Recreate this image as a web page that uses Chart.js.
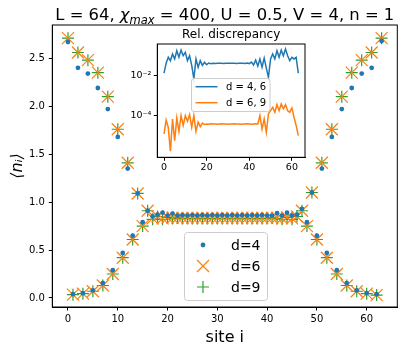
<!DOCTYPE html>
<html>
<head>
<meta charset="utf-8">
<script src="https://cdn.jsdelivr.net/npm/chart.js@4"></script>
<style>
  html, body { margin: 0; padding: 0; background: #fff; }
  #wrap { position: relative; width: 407px; height: 353px; }
  #main { position: absolute; left: 0; top: 0; width: 407px; height: 353px; }
  #inset { position: absolute; left: 110px; top: 20px; width: 200px; height: 160px; }
</style>
</head>
<body>
<div id="wrap">
  <canvas id="main" width="407" height="353"></canvas>
  <canvas id="inset" width="200" height="160"></canvas>
</div>
<script>
const sites = [0, 1, 2, 3, 4, 5, 6, 7, 8, 9, 10, 11, 12, 13, 14, 15, 16, 17, 18, 19, 20, 21, 22, 23,
  24, 25, 26, 27, 28, 29, 30, 31, 32, 33, 34, 35, 36, 37, 38, 39, 40, 41, 42, 43, 44, 45, 46, 47,
  48, 49, 50, 51, 52, 53, 54, 55, 56, 57, 58, 59, 60, 61, 62, 63];

// <n_i> for bond dimension d = 4, 6, 9
const dens4 = [2.67, 0.04, 2.40, 0.05, 2.34, 0.08, 2.19, 0.155, 1.97, 0.29, 1.68, 0.47, 1.35, 0.65, 1.09, 0.79,
  0.91, 0.85, 0.87, 0.89, 0.86, 0.88, 0.86, 0.865, 0.86, 0.865, 0.86, 0.865, 0.86, 0.865, 0.86, 0.865,
  0.86, 0.865, 0.86, 0.865, 0.86, 0.865, 0.86, 0.865, 0.86, 0.86, 0.885, 0.86, 0.89, 0.86, 0.87, 0.93,
  0.79, 1.10, 0.65, 1.35, 0.47, 1.68, 0.29, 1.97, 0.155, 2.19, 0.08, 2.34, 0.05, 2.40, 0.04, 2.68];
const dens6 = [2.71, 0.035, 2.56, 0.045, 2.48, 0.07, 2.35, 0.13, 2.10, 0.25, 1.76, 0.42, 1.41, 0.61, 1.09, 0.75,
  0.91, 0.83, 0.85, 0.83, 0.84, 0.835, 0.835, 0.835, 0.835, 0.835, 0.835, 0.835, 0.835, 0.835, 0.835, 0.835,
  0.835, 0.835, 0.835, 0.835, 0.835, 0.835, 0.835, 0.835, 0.835, 0.835, 0.835, 0.83, 0.84, 0.83, 0.85, 0.91,
  0.75, 1.10, 0.61, 1.41, 0.42, 1.76, 0.25, 2.10, 0.13, 2.35, 0.07, 2.48, 0.045, 2.56, 0.03, 2.71];
const dens9 = [2.71, 0.035, 2.56, 0.045, 2.48, 0.07, 2.35, 0.13, 2.10, 0.25, 1.76, 0.42, 1.41, 0.61, 1.09, 0.75,
  0.91, 0.82, 0.85, 0.82, 0.84, 0.83, 0.835, 0.83, 0.83, 0.83, 0.83, 0.83, 0.83, 0.83, 0.83, 0.83,
  0.83, 0.83, 0.83, 0.83, 0.83, 0.83, 0.83, 0.83, 0.83, 0.835, 0.83, 0.82, 0.84, 0.82, 0.85, 0.91,
  0.75, 1.10, 0.61, 1.41, 0.42, 1.76, 0.25, 2.10, 0.13, 2.35, 0.07, 2.48, 0.045, 2.56, 0.03, 2.71];

// relative discrepancy (inset)
const disc46 = [1.38e-2, 4.4e-2, 8.7e-2, 5.9e-2, 1.29e-1, 7.2e-2, 1.86e-1, 8.7e-2, 2.0e-1, 1.05e-1, 1.55e-1, 5.9e-2,
  1.05e-1, 3.4e-2, 7.1e-3, 7.2e-2, 2.75e-2, 5.9e-2, 3.4e-2, 4.9e-2, 3.7e-2, 4.5e-2, 4.1e-2, 4.4e-2,
  4.3e-2, 4.4e-2, 4.35e-2, 4.4e-2, 4.3e-2, 4.4e-2, 4.35e-2, 4.4e-2, 4.35e-2, 4.4e-2, 4.3e-2, 4.4e-2,
  4.35e-2, 4.4e-2, 4.3e-2, 4.45e-2, 4.2e-2, 5.0e-2, 3.55e-2, 6.3e-2, 3.16e-2, 7.1e-2, 2.8e-2, 7.9e-2,
  2.5e-2, 8.5e-3, 7.2e-2, 1.29e-1, 7.2e-2, 1.86e-1, 8.7e-2, 2.0e-1, 1.05e-1, 2.3e-1, 1.05e-1, 5.9e-2,
  8.7e-2, 7.2e-2, 8.7e-2, 1.38e-2];
const disc69 = [1.2e-5, 6.0e-5, 2.5e-5, 1.6e-6, 6.8e-5, 5.5e-6, 7.6e-5, 1.6e-5, 1.0e-4, 3.2e-5, 1.0e-4, 5.2e-5,
  1.12e-4, 2.6e-5, 1.0e-4, 1.6e-5, 4.7e-5, 2.8e-5, 4.2e-5, 3.55e-5, 3.8e-5, 3.7e-5, 3.9e-5, 3.8e-5,
  3.8e-5, 3.7e-5, 3.8e-5, 3.9e-5, 3.8e-5, 3.8e-5, 3.7e-5, 3.8e-5, 3.8e-5, 3.9e-5, 3.8e-5, 3.8e-5,
  3.7e-5, 3.8e-5, 3.8e-5, 3.9e-5, 3.8e-5, 3.7e-5, 3.8e-5, 3.9e-5, 3.7e-5, 1.0e-4, 2.1e-5, 6.8e-5,
  1.45e-5, 1.23e-4, 1.78e-4, 2.6e-4, 1.48e-4, 3.6e-4, 1.78e-4, 3.9e-4, 2.2e-4, 3.6e-4, 1.78e-4, 1.48e-4,
  2.45e-4, 8.3e-5, 3.2e-5, 9.8e-6];

const densLabels = ["d=4", "d=6", "d=9"];
const discLabels = ["d = 4, 6", "d = 6, 9"];
const xTicks = [0, 10, 20, 30, 40, 50, 60];
const yTicks = [0, 0.5, 1.0, 1.5, 2.0, 2.5];
const insetXTicks = [0, 20, 40, 60];
const insetYTicks = [1e-4, 1e-2];
const insetYTickLabels = ["10⁻⁴", "10⁻²"];

const BLUE = "#1f77b4", ORANGE = "#ff7f0e", GREEN = "#2ca02c";
const FONT = "'DejaVu Sans', sans-serif";
Chart.defaults.font.family = FONT;
Chart.defaults.color = "#000";
Chart.defaults.animation = false;

function pts(arr) { return arr.map((v, i) => ({x: sites[i], y: v})); }

function drawMarker(ctx, style, x, y, r, color) {
  ctx.save();
  ctx.strokeStyle = color; ctx.fillStyle = color; ctx.lineWidth = 1.2;
  ctx.beginPath();
  if (style === "circle") { ctx.arc(x, y, r, 0, Math.PI * 2); ctx.fill(); }
  else if (style === "crossRot") {
    const a = r * Math.SQRT1_2;
    ctx.moveTo(x - a, y - a); ctx.lineTo(x + a, y + a);
    ctx.moveTo(x - a, y + a); ctx.lineTo(x + a, y - a); ctx.stroke();
  } else {
    ctx.moveTo(x - r, y); ctx.lineTo(x + r, y);
    ctx.moveTo(x, y - r); ctx.lineTo(x, y + r); ctx.stroke();
  }
  ctx.restore();
}

function roundBox(ctx, x, y, w, h, r) {
  ctx.beginPath();
  ctx.moveTo(x + r, y); ctx.lineTo(x + w - r, y); ctx.quadraticCurveTo(x + w, y, x + w, y + r);
  ctx.lineTo(x + w, y + h - r); ctx.quadraticCurveTo(x + w, y + h, x + w - r, y + h);
  ctx.lineTo(x + r, y + h); ctx.quadraticCurveTo(x, y + h, x, y + h - r);
  ctx.lineTo(x, y + r); ctx.quadraticCurveTo(x, y, x + r, y); ctx.closePath();
}

// frame, title and legend of the main plot
const mainDeco = {
  id: "mainDeco",
  afterDraw(chart) {
    const {ctx, chartArea: a} = chart;
    ctx.save();
    ctx.strokeStyle = "#000"; ctx.lineWidth = 1;
    ctx.strokeRect(a.left, a.top, a.right - a.left, a.bottom - a.top);

    // title with subscript
    const parts = [
      {t: "L = 64, ", f: "16.4px " + FONT, dy: 0},
      {t: "χ", f: "italic 16.4px " + FONT, dy: 0},
      {t: "max", f: "italic 11.5px " + FONT, dy: 4},
      {t: " = 400, U = 0.5, V = 4, n = 1", f: "16.4px " + FONT, dy: 0}
    ];
    let w = 0;
    parts.forEach(p => { ctx.font = p.f; p.w = ctx.measureText(p.t).width; w += p.w; });
    let x = (a.left + a.right) / 2 - w / 2;
    ctx.fillStyle = "#000"; ctx.textBaseline = "alphabetic";
    parts.forEach(p => { ctx.font = p.f; ctx.fillText(p.t, x, 20 + p.dy); x += p.w; });

    // legend
    ctx.globalAlpha = 0.8; ctx.fillStyle = "#fff";
    roundBox(ctx, 184.5, 232.5, 83, 68, 3); ctx.fill();
    ctx.globalAlpha = 1; ctx.strokeStyle = "#ccc"; ctx.stroke();
    chart.data.datasets.forEach((ds, i) => {
      const yy = 245 + i * 21;
      drawMarker(ctx, ds.pointStyle, 203, yy, ds.pointRadius, ds.borderColor);
      ctx.fillStyle = "#000"; ctx.font = "14px " + FONT; ctx.textBaseline = "middle";
      ctx.fillText(ds.label, 231, yy + 1);
    });
    ctx.restore();
  }
};

new Chart(document.getElementById("main"), {
  type: "scatter",
  data: {
    datasets: [
      {label: densLabels[0], data: pts(dens4), pointStyle: "circle", pointRadius: 2.4, borderColor: BLUE, backgroundColor: BLUE, borderWidth: 0},
      {label: densLabels[1], data: pts(dens6), pointStyle: "crossRot", pointRadius: 8.5, borderColor: ORANGE, backgroundColor: ORANGE, borderWidth: 1.2},
      {label: densLabels[2], data: pts(dens9), pointStyle: "cross", pointRadius: 6, borderColor: GREEN, backgroundColor: GREEN, borderWidth: 1.2}
    ]
  },
  options: {
    responsive: false,
    layout: {padding: {left: 0, top: 25, right: 8, bottom: 0}},
    plugins: {legend: {display: false}, tooltip: {enabled: false}},
    scales: {
      x: {
        type: "linear", min: -3.15, max: 66.15,
        afterBuildTicks: s => { s.ticks = xTicks.map(v => ({value: v})); },
        afterFit: s => { s.height = 46; },
        ticks: {font: {size: 10}, color: "#000", padding: 3, maxRotation: 0, autoSkip: false},
        grid: {drawOnChartArea: false, drawTicks: true, tickLength: 3.5, color: "#000"},
        border: {display: true, color: "#000"},
        title: {display: true, text: "site i", font: {size: 16}, color: "#000", padding: {top: 0, bottom: 6}}
      },
      y: {
        type: "linear", min: -0.094, max: 2.847,
        afterBuildTicks: s => { s.ticks = yTicks.map(v => ({value: v})); },
        afterFit: s => { s.width = 52.3; },
        ticks: {font: {size: 10}, color: "#000", padding: 4, callback: v => v.toFixed(1)},
        grid: {drawOnChartArea: false, drawTicks: true, tickLength: 3.5, color: "#000"},
        border: {display: true, color: "#000"},
        title: {display: true, text: "⟨nᵢ⟩", font: {size: 16, style: "italic"}, color: "#000", padding: {top: 8, bottom: 0}}
      }
    }
  },
  plugins: [mainDeco]
});

// inset: white background, frame, title, legend
const insetDeco = {
  id: "insetDeco",
  beforeDraw(chart) {
    const {ctx, chartArea: a} = chart;
    ctx.save(); ctx.fillStyle = "#fff";
    ctx.fillRect(a.left, a.top, a.right - a.left, a.bottom - a.top);
    ctx.restore();
  },
  afterDraw(chart) {
    const {ctx, chartArea: a} = chart;
    ctx.save();
    ctx.strokeStyle = "#000"; ctx.lineWidth = 1;
    ctx.strokeRect(a.left, a.top, a.right - a.left, a.bottom - a.top);
    ctx.fillStyle = "#000"; ctx.font = "12px " + FONT; ctx.textAlign = "center"; ctx.textBaseline = "alphabetic";
    ctx.fillText("Rel. discrepancy", (a.left + a.right) / 2, 18.3);
    ctx.textAlign = "left";
    ctx.globalAlpha = 0.8; ctx.fillStyle = "#fff";
    roundBox(ctx, 81.5, 58.5, 78.5, 33, 2.5); ctx.fill();
    ctx.globalAlpha = 1; ctx.strokeStyle = "#ccc"; ctx.stroke();
    chart.data.datasets.forEach((ds, i) => {
      const yy = 66.7 + i * 16;
      ctx.strokeStyle = ds.borderColor; ctx.lineWidth = 1.5;
      ctx.beginPath(); ctx.moveTo(85.5, yy); ctx.lineTo(107.5, yy); ctx.stroke();
      ctx.fillStyle = "#000"; ctx.font = "10px " + FONT; ctx.textBaseline = "middle";
      ctx.fillText(ds.label, 116, yy + 0.5);
    });
    ctx.restore();
  }
};

new Chart(document.getElementById("inset"), {
  type: "line",
  data: {
    datasets: [
      {label: discLabels[0], data: pts(disc46), borderColor: BLUE, borderWidth: 1.5, pointRadius: 0, fill: false, tension: 0},
      {label: discLabels[1], data: pts(disc69), borderColor: ORANGE, borderWidth: 1.5, pointRadius: 0, fill: false, tension: 0}
    ]
  },
  options: {
    responsive: false,
    layout: {padding: {left: 0, top: 24, right: 5, bottom: 0}},
    plugins: {legend: {display: false}, tooltip: {enabled: false}},
    scales: {
      x: {
        type: "linear", min: -3.15, max: 66.15,
        afterBuildTicks: s => { s.ticks = insetXTicks.map(v => ({value: v})); },
        afterFit: s => { s.height = 22.7; },
        ticks: {font: {size: 9.5}, color: "#000", padding: 1, maxRotation: 0, autoSkip: false},
        grid: {drawOnChartArea: false, drawTicks: true, tickLength: 3.5, color: "#000"},
        border: {display: true, color: "#000"}
      },
      y: {
        type: "logarithmic", min: Math.pow(10, -6.1), max: Math.pow(10, -0.39),
        afterBuildTicks: s => { s.ticks = insetYTicks.map(v => ({value: v})); },
        afterFit: s => { s.width = 47.3; },
        ticks: {font: {size: 9.5}, color: "#000", padding: 2.5,
          callback: v => insetYTickLabels[insetYTicks.findIndex(t => Math.abs(Math.log10(t) - Math.log10(v)) < 0.01)]},
        grid: {drawOnChartArea: false, drawTicks: true, tickLength: 3.5, color: "#000"},
        border: {display: true, color: "#000"}
      }
    }
  },
  plugins: [insetDeco]
});
</script>
</body>
</html>
